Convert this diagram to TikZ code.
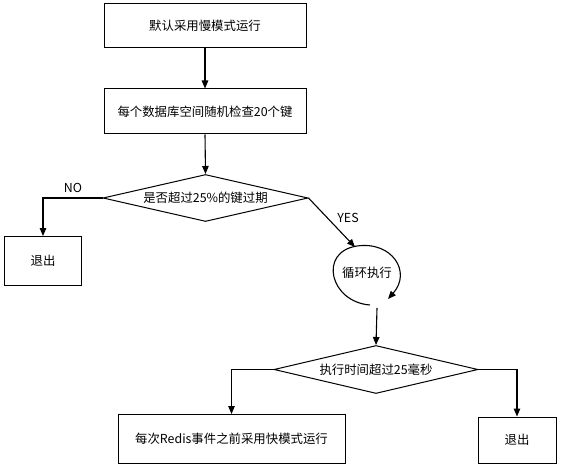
\documentclass[tikz,border=0pt]{standalone}
\usepackage{fontspec}
\setmainfont{Noto Sans CJK SC}
\usetikzlibrary{shapes.geometric,arrows.meta}
\begin{document}
\begin{tikzpicture}[x=1pt,y=-1pt,
  font=\fontsize{12.4}{14}\selectfont,
  every path/.style={line width=1.1pt},
  box/.style={draw,line width=1pt,inner sep=0pt,anchor=center},
  dec/.style={draw,diamond,aspect=4.3,inner sep=0pt,line width=1pt},
  arr/.style={draw,-{Triangle[length=8pt,width=6.5pt]}},
  lbl/.style={inner sep=0pt}]
\useasboundingbox[fill=white] (0,0) rectangle (562,468);
\node[box,minimum width=202pt,minimum height=44pt] (b1) at (205,26) {默认采用慢模式运行};
\node[box,minimum width=202pt,minimum height=45pt] (b2) at (205,111.5) {每个数据库空间随机检查20个键};
\node[dec,minimum width=205pt,minimum height=47pt] (d1) at (205.5,198) {是否超过25\%的键过期};
\node[box,minimum width=77pt,minimum height=49pt] (ex1) at (43,261) {退出};
\node[lbl] (no) at (73,188) {NO};
\node[lbl] (yes) at (348,218) {YES};
\node[lbl] (loop) at (367,273) {循环执行};
\coordinate (loopin) at (355,247);
\coordinate (loopout) at (377,308);
\node[dec,minimum width=204pt,minimum height=48pt] (d2) at (376,369.5) {执行时间超过25毫秒};
\node[box,minimum width=227pt,minimum height=49pt] (b3) at (231.5,439) {每次Redis事件之前采用快模式运行};
\node[box,minimum width=78pt,minimum height=46pt] (ex2) at (517,440) {退出};

\draw[arr] (b1.south) -- (b2.north);
\draw[arr] (b2.south) -- (d1.north);
\draw[arr] (d1.west) -| (ex1.north);
\draw[arr] (d1.east) -- (loopin);
\draw[-{Triangle[length=8pt,width=6.5pt]}] (370,305) .. controls (330,302) and (318,252) .. (357,246) .. controls (392,241) and (412,272) .. (388,299);
\draw[arr] (loopout) -- (d2.north);
\draw[arr] (d2.west) -| (b3.north);
\draw[arr] (d2.east) -| (ex2.north);
\end{tikzpicture}
\end{document}
